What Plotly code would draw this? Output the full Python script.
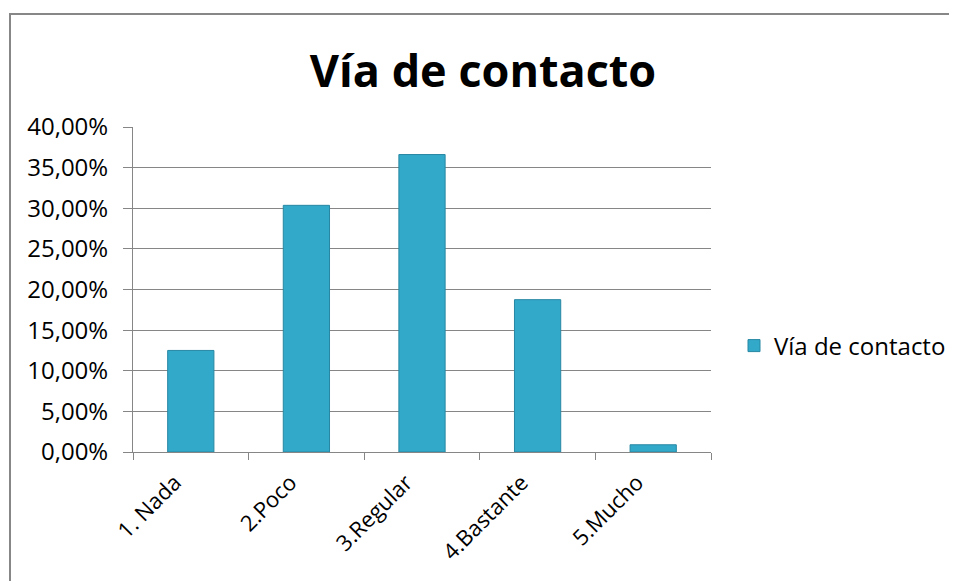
import plotly.graph_objects as go

categories = ["1. Nada", "2.Poco", "3.Regular", "4.Bastante", "5.Mucho"]
values = [0.1250, 0.3036, 0.3661, 0.1875, 0.0089]
series_name = "Vía de contacto"
title_text = "Vía de contacto"
y_ticks = [0, 0.05, 0.10, 0.15, 0.20, 0.25, 0.30, 0.35, 0.40]

W, H = 957, 581
OFF = 8  # page body margin offset
L, T = 133 - OFF, 127 - OFF
pw, ph = 578, 325
R, B = W - L - pw, H - T - ph

font_family = "Open Sans"
fs = 24

fig = go.Figure()
fig.add_trace(go.Bar(
    x=categories, y=values, name=series_name,
    marker=dict(color="#33A9CA", line=dict(color="#2787A3", width=1)),
    width=0.4,
))

fig.update_layout(
    width=W, height=H,
    margin=dict(l=L, r=R, t=T, b=B, autoexpand=False),
    paper_bgcolor="white", plot_bgcolor="white",
    separators=",.",
    font=dict(family=font_family, size=fs, color="black"),
    title=dict(text="<b>" + title_text + "</b>", x=(483 - OFF) / W, xref="container", xanchor="center",
               y=1 - (71 - OFF) / H, yref="container", yanchor="middle",
               font=dict(family=font_family, size=45, color="black")),
    showlegend=True,
    legend=dict(x=(734 - 133) / pw, y=(452 - 346) / ph, xanchor="left", yanchor="middle",
                font=dict(family=font_family, size=fs, color="black"),
                bgcolor="rgba(0,0,0,0)", itemwidth=30),
)

fig.update_yaxes(
    range=[0, 0.40], tickvals=y_ticks, tickformat=".2%",
    showgrid=True, gridcolor="#868686", gridwidth=1,
    showline=True, linecolor="#868686", linewidth=1,
    ticks="outside", ticklen=9, tickcolor="#868686",
    zeroline=False, ticklabelstandoff=10, automargin=False,
)
fig.update_xaxes(
    showline=True, linecolor="#868686", linewidth=1,
    ticks="outside", ticklen=7, tickcolor="#868686", tickson="boundaries",
    tickangle=-45, showgrid=False, automargin=False,
    ticklabelshift=-16, ticklabelstandoff=8,
    tickfont=dict(family=font_family, size=22, color="black"),
)

# outer chart border
fig.add_shape(type="rect", xref="paper", yref="paper",
              x0=(10 - 133) / pw, x1=(W + 30 - 133) / pw,
              y0=-(H + 30 - 452) / ph, y1=(452 - 14) / ph,
              line=dict(color="#878787", width=2), fillcolor="rgba(0,0,0,0)", layer="below")

fig.write_html("out.html")
